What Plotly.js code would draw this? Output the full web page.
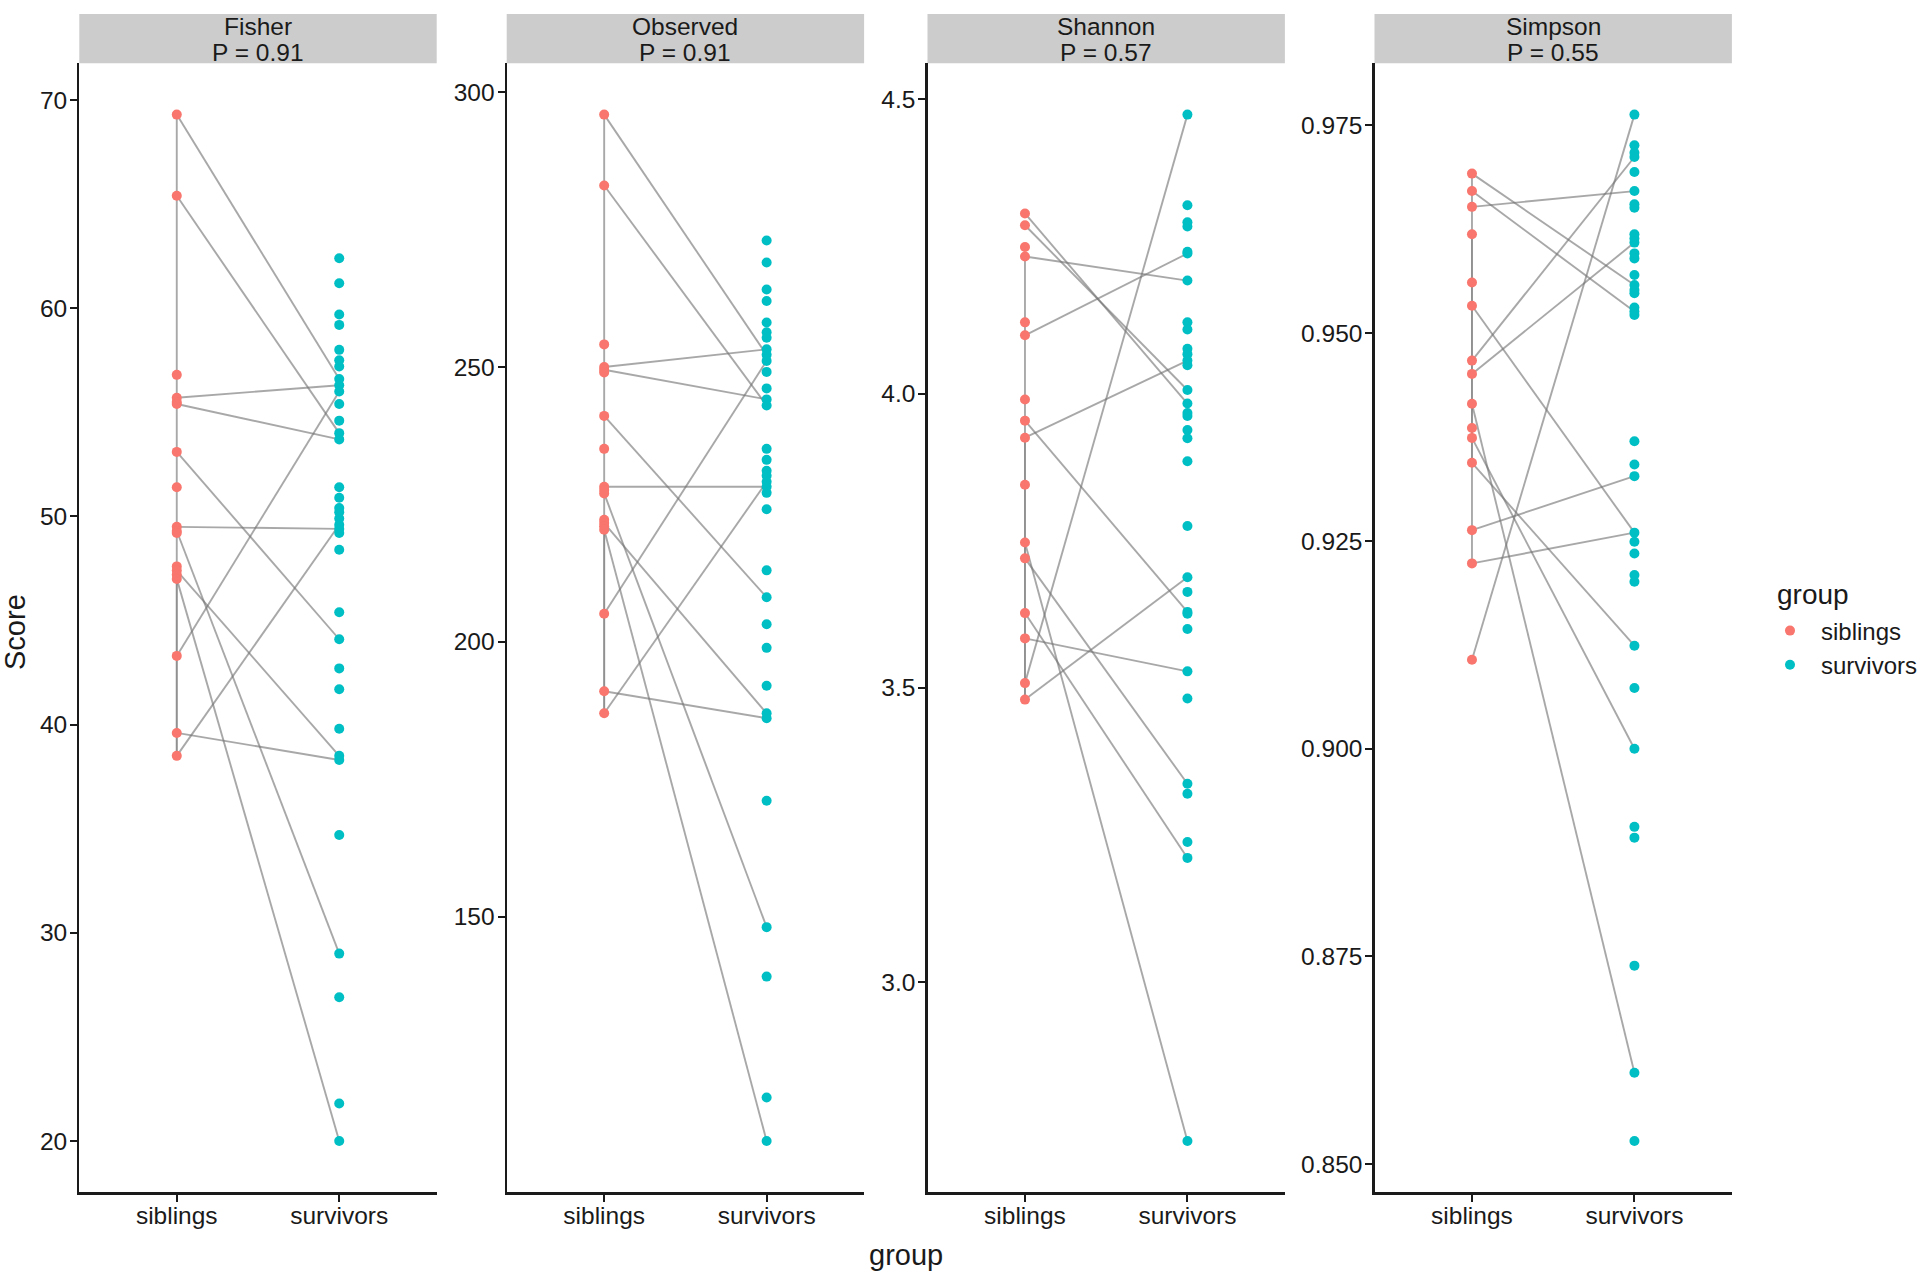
<!DOCTYPE html>
<html>
<head>
<meta charset="utf-8">
<script src="https://cdn.plot.ly/plotly-3.0.1.min.js"></script>
<style>
html,body{margin:0;padding:0;background:#ffffff;}
#chart{width:1920px;height:1274px;}
</style>
</head>
<body>
<div id="chart"></div>
<script>
// ---------------- data ----------------
const groups = ['siblings', 'survivors'];
const legendTitle = 'group';
const panelNames = ['Fisher', 'Observed', 'Shannon', 'Simpson'];
const pValues = ['P = 0.91', 'P = 0.91', 'P = 0.57', 'P = 0.55'];

// Fisher
const fisherSiblings = [69.3, 65.4, 56.8, 55.7, 55.5, 55.4, 53.1, 51.4, 49.5, 49.3, 49.2, 47.6, 47.4, 47.2, 47.0, 43.3, 39.6, 38.5];
const fisherSurvivors = [62.4, 61.2, 59.7, 59.2, 58.0, 57.5, 57.2, 56.6, 56.3, 56.0, 55.4, 54.6, 54.0, 53.7, 51.4, 50.9, 50.4, 50.2, 49.9, 49.6, 49.4, 49.2, 48.4, 45.4, 44.1, 42.7, 41.7, 39.8, 38.5, 38.3, 34.7, 29.0, 26.9, 21.8, 20.0];
const fisherPairSib = [69.3, 65.4, 55.7, 55.4, 53.1, 49.5, 49.3, 47.4, 47.0, 43.3, 39.6, 38.5];
const fisherPairSur = [56.6, 54.0, 56.3, 53.7, 44.1, 49.4, 29.0, 38.5, 20.0, 56.0, 38.3, 49.6];
const fisherSpine = [69.3, 38.5];
const fisherSpineDark = [47.6, 38.5];
const fisherTicks = [20, 30, 40, 50, 60, 70];

// Observed
const observedSiblings = [295.9, 283.0, 254.1, 250.0, 249.5, 249.0, 241.1, 235.1, 228.2, 227.6, 227.0, 222.2, 221.6, 221.0, 220.4, 205.1, 191.0, 187.0];
const observedSurvivors = [273.0, 269.0, 264.1, 262.0, 258.1, 256.3, 255.3, 253.2, 252.2, 251.1, 249.1, 246.1, 244.1, 243.0, 235.1, 233.1, 231.1, 230.2, 229.1, 228.2, 227.1, 224.1, 213.0, 208.1, 203.2, 198.9, 192.0, 187.0, 186.1, 171.1, 148.1, 139.1, 117.1, 109.2];
const observedPairSib = [295.9, 283.0, 250.0, 249.5, 241.1, 228.2, 227.0, 221.6, 220.4, 205.1, 191.0, 187.0];
const observedPairSur = [252.2, 243.0, 253.2, 244.1, 208.1, 228.2, 148.1, 187.0, 109.2, 251.1, 186.1, 229.1];
const observedSpine = [295.9, 187.0];
const observedSpineDark = [222.2, 187.0];
const observedTicks = [150, 200, 250, 300];

// Shannon
const shannonSiblings = [4.306, 4.286, 4.249, 4.233, 4.121, 4.099, 3.990, 3.954, 3.925, 3.845, 3.747, 3.720, 3.627, 3.584, 3.508, 3.480];
const shannonSurvivors = [4.474, 4.320, 4.291, 4.284, 4.241, 4.238, 4.192, 4.121, 4.109, 4.076, 4.067, 4.056, 4.048, 4.006, 3.983, 3.967, 3.962, 3.938, 3.924, 3.885, 3.775, 3.688, 3.663, 3.629, 3.626, 3.600, 3.528, 3.482, 3.337, 3.320, 3.238, 3.211, 2.730];
const shannonPairSib = [4.306, 4.286, 4.233, 4.099, 3.954, 3.925, 3.747, 3.720, 3.627, 3.584, 3.508, 3.480];
const shannonPairSur = [3.983, 4.006, 4.192, 4.238, 3.629, 4.056, 2.730, 3.337, 3.211, 3.528, 4.474, 3.688];
const shannonSpine = [4.233, 3.480];
const shannonSpineDark = [3.925, 3.480];
const shannonTicks = [3.0, 3.5, 4.0, 4.5];

// Simpson
const simpsonSiblings = [0.9692, 0.9671, 0.9652, 0.9619, 0.9561, 0.9533, 0.9467, 0.9451, 0.9415, 0.9386, 0.9374, 0.9344, 0.9263, 0.9223, 0.9107];
const simpsonSurvivors = [0.9763, 0.9726, 0.9717, 0.9712, 0.9694, 0.9671, 0.9655, 0.9651, 0.9619, 0.9614, 0.9609, 0.9596, 0.9590, 0.9570, 0.9558, 0.9552, 0.9548, 0.9531, 0.9526, 0.9522, 0.9370, 0.9342, 0.9328, 0.9260, 0.9249, 0.9235, 0.9209, 0.9201, 0.9124, 0.9073, 0.9000, 0.8906, 0.8893, 0.8739, 0.8610, 0.8528];
const simpsonPairSib = [0.9692, 0.9671, 0.9652, 0.9533, 0.9467, 0.9451, 0.9415, 0.9374, 0.9344, 0.9263, 0.9223, 0.9107];
const simpsonPairSur = [0.9558, 0.9526, 0.9671, 0.9260, 0.9712, 0.9609, 0.8610, 0.9000, 0.9124, 0.9328, 0.9260, 0.9763];
const simpsonSpine = [0.9692, 0.9223];
const simpsonSpineDark = [0.9619, 0.9344];
const simpsonTicks = [0.850, 0.875, 0.900, 0.925, 0.950, 0.975];

// ---------------- build ----------------
const panels = [
  {sib: fisherSiblings, sur: fisherSurvivors, ps: fisherPairSib, pv: fisherPairSur, spine: fisherSpine, dark: fisherSpineDark, ticks: fisherTicks, fmt: d => String(d)},
  {sib: observedSiblings, sur: observedSurvivors, ps: observedPairSib, pv: observedPairSur, spine: observedSpine, dark: observedSpineDark, ticks: observedTicks, fmt: d => String(d)},
  {sib: shannonSiblings, sur: shannonSurvivors, ps: shannonPairSib, pv: shannonPairSur, spine: shannonSpine, dark: shannonSpineDark, ticks: shannonTicks, fmt: d => d.toFixed(1)},
  {sib: simpsonSiblings, sur: simpsonSurvivors, ps: simpsonPairSib, pv: simpsonPairSur, spine: simpsonSpine, dark: simpsonSpineDark, ticks: simpsonTicks, fmt: d => d.toFixed(3)}
];

const W = 1920, H = 1274;
const panelLeft = [79.3, 506.7, 927.5, 1374.5];
const panelWidth = 357.4;
const plotTop = 63.3, plotBottom = 1192.3;
const stripTop = 14;

const colSib = '#F8766D', colSur = '#00BFC4';
const lineCol = 'rgba(115,115,115,0.62)';
const font = 'Liberation Sans, Arial, Helvetica, sans-serif';
const ink = '#1a1a1a';

const traces = [];
const layout = {
  width: W, height: H,
  margin: {l: 0, r: 0, t: 0, b: 0, pad: 0, autoexpand: false},
  paper_bgcolor: '#ffffff', plot_bgcolor: '#ffffff',
  font: {family: font, color: ink},
  showlegend: true,
  legend: {
    x: 1759 / W, y: 1 - 648 / H, xanchor: 'left', yanchor: 'middle',
    font: {size: 24, family: font, color: ink},
    itemwidth: 52, tracegroupgap: 0, bgcolor: 'rgba(0,0,0,0)'
  },
  shapes: [], annotations: []
};

const yDom = [1 - plotBottom / H, 1 - plotTop / H];

panels.forEach((p, i) => {
  const n = i === 0 ? '' : String(i + 1);
  const xa = 'x' + n, ya = 'y' + n;
  const all = p.sib.concat(p.sur);
  const mn = Math.min(...all), mx = Math.max(...all);
  const span = mx - mn;
  const x0 = panelLeft[i] / W, x1 = (panelLeft[i] + panelWidth) / W;

  layout['xaxis' + n] = {
    domain: [x0, x1], anchor: ya, type: 'category',
    categoryorder: 'array', categoryarray: groups,
    range: [-0.6, 1.6], showgrid: false, zeroline: false,
    showline: true, linecolor: ink, linewidth: 2.2,
    ticks: 'outside', ticklen: 7, tickwidth: 2, tickcolor: ink,
    ticklabelstandoff: -7,
    tickfont: {size: 24.5, family: font, color: ink},
    fixedrange: true
  };
  layout['yaxis' + n] = {
    domain: yDom, anchor: xa,
    range: [mn - 0.05 * span, mx + 0.05 * span],
    tickmode: 'array', tickvals: p.ticks, ticktext: p.ticks.map(p.fmt),
    showgrid: false, zeroline: false,
    showline: true, linecolor: ink, linewidth: 2.2,
    ticks: 'outside', ticklen: 7, tickwidth: 2, tickcolor: ink,
    ticklabelstandoff: -2,
    tickfont: {size: 24.5, family: font, color: ink},
    fixedrange: true
  };

  // connecting lines at the siblings position
  traces.push({type: 'scatter', mode: 'lines', xaxis: xa, yaxis: ya,
    x: p.spine.map(() => groups[0]), y: p.spine,
    line: {color: lineCol, width: 1.9}, showlegend: false, hoverinfo: 'skip'});
  traces.push({type: 'scatter', mode: 'lines', xaxis: xa, yaxis: ya,
    x: p.dark.map(() => groups[0]), y: p.dark,
    line: {color: 'rgba(115,115,115,0.45)', width: 1.9}, showlegend: false, hoverinfo: 'skip'});

  // paired lines
  const lx = [], ly = [];
  p.ps.forEach((v, k) => {
    lx.push(groups[0], groups[1], null);
    ly.push(v, p.pv[k], null);
  });
  traces.push({type: 'scatter', mode: 'lines', xaxis: xa, yaxis: ya,
    x: lx, y: ly, connectgaps: false,
    line: {color: lineCol, width: 1.9}, showlegend: false, hoverinfo: 'skip'});

  // points
  traces.push({type: 'scatter', mode: 'markers', xaxis: xa, yaxis: ya,
    name: groups[0], legendgroup: groups[0], showlegend: i === 0,
    x: p.sib.map(() => groups[0]), y: p.sib,
    marker: {color: colSib, size: 10, line: {width: 0}}});
  traces.push({type: 'scatter', mode: 'markers', xaxis: xa, yaxis: ya,
    name: groups[1], legendgroup: groups[1], showlegend: i === 0,
    x: p.sur.map(() => groups[1]), y: p.sur,
    marker: {color: colSur, size: 10, line: {width: 0}}});

  // strip
  layout.shapes.push({type: 'rect', xref: 'paper', yref: 'paper',
    x0: x0, x1: x1, y0: 1 - plotTop / H, y1: 1 - stripTop / H,
    fillcolor: '#cccccc', line: {width: 0}, layer: 'below'});
  layout.annotations.push({xref: 'paper', yref: 'paper',
    x: (x0 + x1) / 2, y: 1 - 26 / H,
    xanchor: 'center', yanchor: 'middle', showarrow: false,
    text: panelNames[i],
    font: {size: 24.5, family: font, color: ink}});
  layout.annotations.push({xref: 'paper', yref: 'paper',
    x: (x0 + x1) / 2, y: 1 - 53 / H,
    xanchor: 'center', yanchor: 'middle', showarrow: false,
    text: pValues[i],
    font: {size: 24.5, family: font, color: ink}});
});

// legend title
layout.annotations.push({xref: 'paper', yref: 'paper',
  x: 1775 / W, y: 1 - 594 / H, xanchor: 'left', yanchor: 'middle',
  showarrow: false, text: legendTitle,
  font: {size: 28, family: font, color: ink}});

// axis titles
layout.annotations.push({xref: 'paper', yref: 'paper',
  x: 15 / W, y: 1 - 632 / H, xanchor: 'center', yanchor: 'middle',
  showarrow: false, textangle: -90, text: 'Score',
  font: {size: 29, family: font, color: ink}});
layout.annotations.push({xref: 'paper', yref: 'paper',
  x: (panelLeft[0] + panelLeft[3] + panelWidth) / 2 / W, y: 1 - 1255 / H,
  xanchor: 'center', yanchor: 'middle',
  showarrow: false, text: 'group',
  font: {size: 29, family: font, color: ink}});

Plotly.newPlot('chart', traces, layout, {displayModeBar: false, staticPlot: true});
</script>
</body>
</html>
